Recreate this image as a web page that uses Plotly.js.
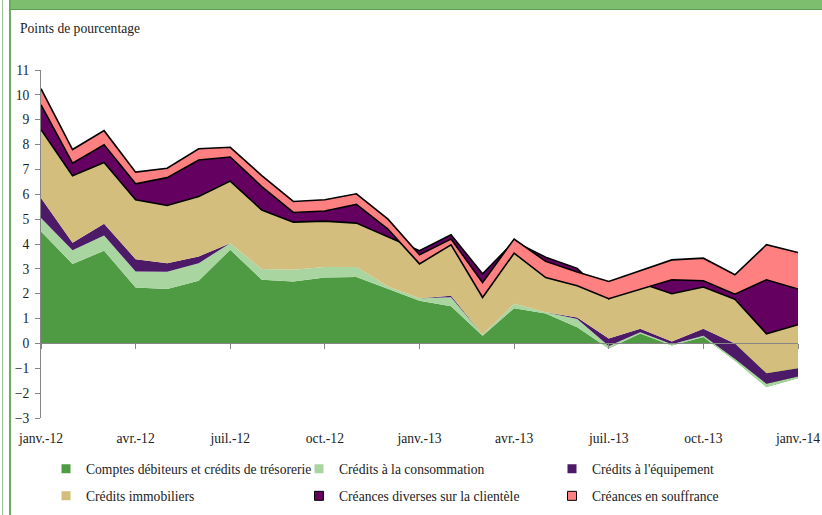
<!DOCTYPE html>
<html>
<head>
<meta charset="utf-8">
<script src="https://cdn.plot.ly/plotly-3.0.1.min.js"></script>
<style>
  html, body { margin:0; padding:0; background:#ffffff; }
  #chart { width:822px; height:515px; position:absolute; left:0; top:0; }
  .deco { position:absolute; pointer-events:none; }
</style>
</head>
<body>
<div id="chart"></div>
<div class="deco" style="left:9px; top:0; width:813px; height:9px; background:#7DBE6E;"></div>
<div class="deco" style="left:9px; top:9px; width:813px; height:1px; background:#5E9F52;"></div>
<div class="deco" style="left:9px; top:0; width:2px; height:515px; background:#6AAE5C;"></div>
<div class="deco" style="left:2px; top:0; width:1px; height:515px; background:#9CC393;"></div>
<script>
// Months (categories)
const months = ['janv.-12','févr.-12','mars-12','avr.-12','mai-12','juin-12','juil.-12','août-12','sept.-12','oct.-12','nov.-12','déc.-12',
                'janv.-13','févr.-13','mars-13','avr.-13','mai-13','juin-13','juil.-13','août-13','sept.-13','oct.-13','nov.-13','déc.-13','janv.-14'];
const tickLabels = ['janv.-12','avr.-12','juil.-12','oct.-12','janv.-13','avr.-13','juil.-13','oct.-13','janv.-14'];

// Contributions (points de pourcentage)
const comptesDebiteurs   = [4.5,3.2,3.73,2.25,2.19,2.52,3.77,2.56,2.49,2.65,2.67,2.19,1.72,1.5,0.31,1.42,1.2,0.65,-0.2,0.4,-0.08,0.26,-0.7,-1.75,-1.4];
const creditsConso       = [0.55,0.55,0.61,0.64,0.69,0.71,0.26,0.43,0.47,0.42,0.4,0.1,0.1,0.36,0.04,0.18,0.05,0.33,0.1,0.05,0.05,0.05,0.08,0.13,0.07];
const creditsEquipement  = [0.8,0.3,0.47,0.5,0.35,0.27,0,0,0,0,0,0,0,0.06,0,0,0,0.06,0.3,0.14,0.11,0.28,0.62,0.42,0.33];
const creditsImmobiliers = [2.75,2.7,2.47,2.39,2.32,2.41,2.5,2.38,1.92,1.85,1.77,2.01,1.91,2.45,2.45,2.5,2.22,1.98,1.6,1.84,1.92,1.68,1.78,1.59,1.75];
const creancesDiverses   = [1.0,0.5,0.71,0.64,1.12,1.47,0.97,0.94,0.39,0.41,0.75,0.3,-0.53,-0.4,-0.95,-0.47,-0.82,-0.7,0,-0.26,0.56,0.25,0.2,2.17,1.44];
const creancesSouffrance = [0.65,0.55,0.57,0.47,0.38,0.45,0.39,0.44,0.44,0.45,0.43,0.4,0.37,0.23,0.6,0.57,0.65,0.55,0.69,0.76,0.8,0.91,0.78,1.41,1.47];

const seriesNames = ['Comptes débiteurs et crédits de trésorerie','Crédits à la consommation',"Crédits à l'équipement",
                     'Crédits immobiliers','Créances diverses sur la clientèle','Créances en souffrance'];
const seriesColors = ['#4F9B43','#A9D6A0','#4C1A66','#D3BE7D','#640060','#FF8080'];
const seriesValues = [comptesDebiteurs, creditsConso, creditsEquipement, creditsImmobiliers, creancesDiverses, creancesSouffrance];
const lineColors = [null, null, null, '#000000', '#000000', '#000000'];
const legendIds = ['legend','legend2','legend3','legend4','legend5','legend6'];

const traces = [];
seriesValues.forEach((vals, i) => {
  traces.push({
    type:'scatter', mode:'lines', x: months, y: vals, stackgroup:'one',
    name: seriesNames[i], showlegend:false, hoverinfo:'skip',
    fillcolor: seriesColors[i],
    line: lineColors[i] ? {color: lineColors[i], width: 1.6} : {color: seriesColors[i], width: 0}
  });
});
// legend entries
seriesValues.forEach((vals, i) => {
  traces.push({
    type:'scatter', mode:'markers', x:[null], y:[null], name: seriesNames[i],
    legend: legendIds[i],
    marker: {symbol:'square', size:9, color: seriesColors[i],
             line: {color: i >= 4 ? '#000000' : seriesColors[i], width: i >= 4 ? 1 : 0}}
  });
});

const font = {family:'Liberation Serif, Times New Roman, serif', size:13.6, color:'#222222'};
function legendAt(px, py) {
  return {orientation:'h', xref:'container', yref:'container', xanchor:'left', yanchor:'middle',
          x: px/822, y: 1 - py/515, font: font, bgcolor:'rgba(0,0,0,0)', borderwidth:0,
          itemclick:false, itemdoubleclick:false};
}
const legendX = [46, 299, 552];
const legendY = [469, 496];

const layout = {
  width: 822, height: 515,
  margin: {l:41, r:24.3, t:70, b:96.7},
  paper_bgcolor:'rgba(0,0,0,0)', plot_bgcolor:'rgba(0,0,0,0)',
  font: font,
  title: {text:'Points de pourcentage', x: 20/822, xanchor:'left', y: 1 - 28/515, yanchor:'middle',
          xref:'container', yref:'container', font: font},
  xaxis: {type:'category', categoryorder:'array', categoryarray: months, range:[0,24],
          tickmode:'array', tickvals: tickLabels, ticks:'', showline:false, showgrid:false, zeroline:false,
          ticklabelstandoff: 10, tickfont: font, fixedrange:true},
  xaxis2: {type:'category', categoryorder:'array', categoryarray: months, range:[0,24], matches:'x',
           overlaying:'x', anchor:'free', position: 3/14, side:'bottom',
           tickmode:'array', tickvals: tickLabels, ticks:'outside', ticklen:5, tickcolor:'#868686',
           showticklabels:false, showline:true, linecolor:'#868686', linewidth:1, showgrid:false, zeroline:false},
  yaxis: {range:[-3,11], dtick:1, tick0:0, ticks:'outside', ticklen:5, tickcolor:'#868686',
          showline:true, linecolor:'#868686', linewidth:1, showgrid:false, zeroline:false,
          tickfont: font, ticklabelstandoff: 3, fixedrange:true},
  showlegend: true
};
legendIds.forEach((id, i) => {
  layout[id] = legendAt(legendX[i % 3], legendY[Math.floor(i / 3)]);
});

// dummy trace to make xaxis2 render
traces.push({type:'scatter', mode:'lines', x:[], y:[], xaxis:'x2', showlegend:false, hoverinfo:'skip'});

Plotly.newPlot('chart', traces, layout, {staticPlot:true, displayModeBar:false});
</script>
</body>
</html>
